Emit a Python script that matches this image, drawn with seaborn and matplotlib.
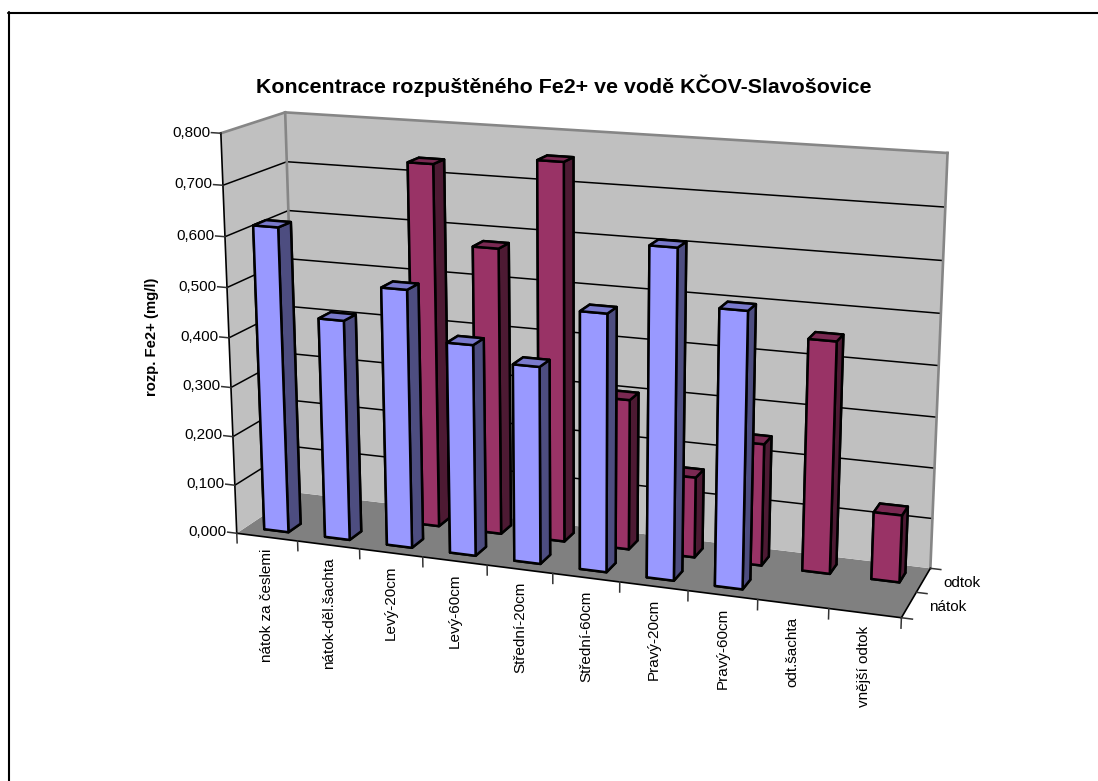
import numpy as np
import matplotlib
matplotlib.use("Agg")
import matplotlib.pyplot as plt
from matplotlib.lines import Line2D
from mpl_toolkits.mplot3d.art3d import Poly3DCollection, Line3DCollection
import seaborn as sns

# Dissolved Fe2+ by sampling point, for the two flow directions (mg/l).
categories = ["nátok za česlemi", "nátok-děl.šachta", "Levý-20cm", "Levý-60cm",
              "Střední-20cm", "Střední-60cm", "Pravý-20cm", "Pravý-60cm",
              "odt.šachta", "vnější odtok"]
series_names = ["nátok", "odtok"]
natok = [0.617, 0.444, 0.516, 0.42, 0.39, 0.504, 0.638, 0.532, 0.0, 0.0]
odtok = [0.0, 0.0, 0.734, 0.578, 0.755, 0.302, 0.161, 0.242, 0.454, 0.132]
z_ticks = [0.0, 0.1, 0.2, 0.3, 0.4, 0.5, 0.6, 0.7, 0.8]

sns.set_theme(style="white")
plt.rcParams["font.family"] = ["Liberation Sans", "DejaVu Sans"]
palette = sns.color_palette(["#9999FF", "#993366"])

W, H = 1098, 781
n_cat, n_ser, z_top = len(categories), len(series_names), z_ticks[-1]

fig = plt.figure(figsize=(W / 100, H / 100), dpi=100, facecolor="white")
ax = fig.add_axes([0, 0, 1, 1], projection="3d", computed_zorder=False)
ax.set_axis_off()
ax.patch.set_alpha(0)
ax.apply_aspect = lambda position=None: None

# Oblique camera calibrated on the frame of the plot box: box coordinate -> pixel.
frame = np.array([
    (0, 0, 0.0, 237, 533.5), (0, 0, 0.1, 235, 485), (0, 0, 0.6, 225, 236.7),
    (0, 0, 0.7, 222.7, 185.3), (0, 0, 0.8, 221, 133),
    (0, 2, 0.8, 285, 112), (0, 2, 0.7, 287, 162), (0, 2, 0.6, 288.5, 211), (0, 2, 0.0, 297, 492.5),
    (10, 2, 0.8, 948, 153), (10, 2, 0.7, 945, 207), (10, 2, 0.6, 942.7, 260.7), (10, 2, 0.0, 931, 568),
    (10, 0, 0.0, 901, 618),
])


def camera_matrix(points):
    (x0, x1), (y0, y1) = ax.viewLim.intervalx, ax.viewLim.intervaly
    rows = []
    for x, y, z, px, py in points:
        u = x0 + px / W * (x1 - x0)
        v = y0 + (H - py) / H * (y1 - y0)
        X = [x, y, z, 1.0]
        rows.append(X + [0, 0, 0, 0] + [-u * c for c in X])
        rows.append([0, 0, 0, 0] + X + [-v * c for c in X])
    P = np.linalg.svd(np.array(rows))[2][-1].reshape(3, 4)
    P = P / (P[2] @ np.array([5, 1, 0.4, 1]))
    depth = P[2].copy()
    depth[3] -= 0.5
    return np.vstack([P[0], P[1], depth, P[2]])


M = camera_matrix(frame)
ax.get_proj = lambda: M


def wall(corners, color, zorder):
    ax.add_collection3d(Poly3DCollection([corners], facecolors=color, edgecolors="none",
                                         zorder=zorder, linewidths=0))


def seg(a, b, color="black", lw=1.0, zorder=2):
    ax.add_collection3d(Line3DCollection([[a, b]], colors=color, linewidths=lw,
                                         zorder=zorder, capstyle="projecting"))


def label(x, y, z, text, **kw):
    # Text anchored at a box coordinate, placed in the projected plane.
    q = M @ np.array([x, y, z, 1.0])
    ax.text2D(q[0] / q[3], q[1] / q[3], text, transform=ax.transData, color="black",
              fontsize=11, zorder=100, **kw)


D = n_ser
wall([(0, 0, 0), (n_cat, 0, 0), (n_cat, D, 0), (0, D, 0)], "#808080", 1)
wall([(0, D, 0), (n_cat, D, 0), (n_cat, D, z_top), (0, D, z_top)], "#C0C0C0", 1)
wall([(0, 0, 0), (0, D, 0), (0, D, z_top), (0, 0, z_top)], "#C0C0C0", 1)

for t in z_ticks[1:-1]:
    seg((0, 0, t), (0, D, t), lw=1.1)
    seg((0, D, t), (n_cat, D, t), lw=1.1)

edge = "#868686"
seg((0, D, 0), (0, D, z_top), edge, 1.9)
seg((n_cat, D, 0), (n_cat, D, z_top), edge, 1.9)
seg((0, 0, z_top), (0, D, z_top), edge, 1.9)
seg((0, D, z_top), (n_cat, D, z_top), edge, 1.9)

# Bars, rear row first so that the front row overlaps it.
bar_w = 0.4
order = [(1, odtok), (0, natok)]
zo = 3
for s, values in order:
    base = np.array(palette[s])
    faces = [base * 0.8, base * 0.8, base, base * 0.5, base * 0.5, base * 0.5]
    for i, v in enumerate(values):
        if v <= 0:
            continue
        ax.bar3d(i + 0.3, s + 0.3, 0, bar_w, bar_w, v, color=faces, shade=False,
                 edgecolor="black", linewidth=1.8, zorder=zo)
        zo += 1

# Axis lines, ticks and their labels.
top = 90
seg((0, 0, 0), (0, 0, z_top), lw=1.2, zorder=top)
seg((0, 0, 0), (n_cat, 0, 0), lw=1.2, zorder=top)
seg((n_cat, 0, 0), (n_cat, D, 0), lw=1.2, zorder=top)
tick_color = "#333333"
for t in z_ticks:
    seg((-0.15, 0, t), (0, 0, t), tick_color, 1.1, top)
    label(-0.17, 0, t, f"{t:.3f}".replace(".", ","), ha="right", va="center")
for i in range(n_cat + 1):
    seg((i, 0, 0), (i, 0, -0.02), tick_color, 1.1, top)
for i, name in enumerate(categories):
    label(i + 0.5, 0, -0.025, name, rotation=90, ha="center", va="top")
for j in range(n_ser + 1):
    seg((n_cat, j, 0), (n_cat + 0.15, j, 0), tick_color, 1.1, top)
for j, name in enumerate(series_names):
    label(n_cat + 0.28, j + 0.5, 0, name, ha="left", va="center")

fig.text(564 / W, 1 - 86 / H, "Koncentrace rozpuštěného Fe2+ ve vodě KČOV-Slavošovice",
         ha="center", va="center", fontsize=15.4, fontweight="bold", color="black")
fig.text(152 / W, 1 - 337 / H, "rozp. Fe2+ (mg/l)", rotation=90, ha="center", va="center",
         fontsize=10.75, fontweight="bold", color="black")

# Outer chart frame: only the top and left sides fall inside the canvas.
fig.add_artist(Line2D([9 / W, 9 / W], [0, 1 - 12 / H], color="black", lw=1.5))
fig.add_artist(Line2D([8 / W, 1.0], [1 - 13 / H, 1 - 13 / H], color="black", lw=1.5))

fig.savefig("out.png", dpi=100)
